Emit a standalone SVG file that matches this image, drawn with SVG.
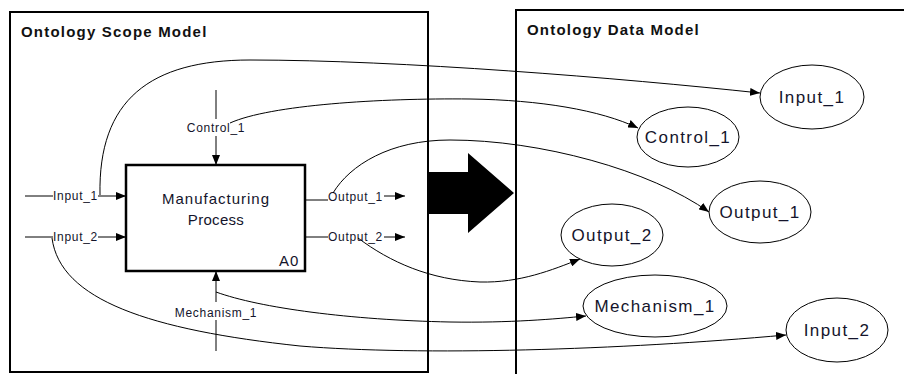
<svg xmlns="http://www.w3.org/2000/svg" width="904" height="374" viewBox="0 0 904 374">
<style>
.frame{fill:none;stroke:#000;stroke-width:2}
.box{fill:#fff;stroke:#000;stroke-width:2.5}
.ln{fill:none;stroke:#000;stroke-width:1}
.arr{fill:none;stroke:#000;stroke-width:1;marker-end:url(#ah)}
.ell{fill:#fff;stroke:#000;stroke-width:1}
.title{font-family:"Liberation Sans",Arial,sans-serif;font-weight:bold;font-size:15px;letter-spacing:1.2px;fill:#111}
.sm{font-family:"Liberation Sans",Arial,sans-serif;font-size:12px;letter-spacing:0.7px;fill:#14142b}
.mid{font-family:"Liberation Sans",Arial,sans-serif;font-size:15px;letter-spacing:1px;fill:#14142b}
.lbl{font-family:"Liberation Sans",Arial,sans-serif;font-size:17px;letter-spacing:1.4px;fill:#14142b;text-anchor:middle}
</style>
<defs>
<marker id="ah" viewBox="0 0 10 8" refX="10" refY="4" markerWidth="10" markerHeight="8" markerUnits="userSpaceOnUse" orient="auto">
<path d="M0,0 L10,4 L0,8 z" fill="#000"/>
</marker>
</defs>
<rect width="904" height="374" fill="#fff"/>
<g id="scope-frame">
<rect class="frame" x="10" y="12" width="418" height="360"/>
<text class="title" x="21" y="37">Ontology Scope Model</text>
</g>
<g id="data-frame">
<rect class="frame" x="516" y="10" width="420" height="400"/>
<text class="title" x="527" y="35">Ontology Data Model</text>
</g>
<g id="big-arrow">
<polygon points="429,172 468,172 468,153 514,193 468,233 468,214 429,214" fill="#000"/>
</g>
<g id="process">
<rect class="box" x="126" y="165" width="179" height="106"/>
<text class="mid" x="216" y="204" text-anchor="middle">Manufacturing</text>
<text class="mid" x="216" y="225" text-anchor="middle" style="letter-spacing:0.3px">Process</text>
<text class="mid" x="279" y="266">A0</text>
</g>
<g id="icom-arrows">
<line class="ln" x1="216" y1="90" x2="216" y2="119"/>
<line class="arr" x1="216" y1="136" x2="216" y2="165"/>
<text class="sm" x="216" y="132" text-anchor="middle">Control_1</text>
<line class="ln" x1="216" y1="351" x2="216" y2="320"/>
<line class="arr" x1="216" y1="302" x2="216" y2="271"/>
<text class="sm" x="216" y="317" text-anchor="middle">Mechanism_1</text>
<line class="ln" x1="25" y1="196" x2="53" y2="196"/>
<text class="sm" x="53" y="200">Input_1</text>
<line class="arr" x1="98" y1="196" x2="126" y2="196"/>
<line class="ln" x1="25" y1="237" x2="53" y2="237"/>
<text class="sm" x="53" y="241">Input_2</text>
<line class="arr" x1="98" y1="237" x2="126" y2="237"/>
<line class="ln" x1="305" y1="200" x2="328" y2="200"/>
<text class="sm" x="328" y="201">Output_1</text>
<line class="arr" x1="384" y1="196" x2="405" y2="196"/>
<line class="ln" x1="305" y1="237" x2="328" y2="237"/>
<text class="sm" x="328" y="241">Output_2</text>
<line class="arr" x1="384" y1="237" x2="405" y2="237"/>
</g>
<g id="connectors">
<path class="arr" d="M100,195 C98,100 150,60 250,60 C400,60 620,78 760,93"/>
<path class="arr" d="M230,123 C270,105 380,98 470,99 C540,100 600,110 638,128"/>
<path class="arr" d="M333,193 C350,165 390,140 450,140 C540,140 650,170 709,212"/>
<path class="arr" d="M358,238 C390,262 430,280 480,282 C520,283 552,270 580,259"/>
<path class="arr" d="M216,292 C260,308 350,320 450,322 C510,323 555,319 586,316"/>
<path class="arr" d="M52,238 C60,300 150,330 300,346 C420,356 620,350 786,335"/>
</g>
<g id="node-input1">
<ellipse class="ell" cx="812" cy="97" rx="52" ry="32"/>
<text class="lbl" x="812" y="103">Input_1</text>
</g>
<g id="node-control1">
<ellipse class="ell" cx="688" cy="137" rx="51" ry="30"/>
<text class="lbl" x="688" y="143">Control_1</text>
</g>
<g id="node-output1">
<ellipse class="ell" cx="760" cy="212" rx="51" ry="31"/>
<text class="lbl" x="760" y="218">Output_1</text>
</g>
<g id="node-output2">
<ellipse class="ell" cx="612" cy="235" rx="51" ry="31"/>
<text class="lbl" x="612" y="241">Output_2</text>
</g>
<g id="node-mechanism1">
<ellipse class="ell" cx="655" cy="306" rx="72" ry="31"/>
<text class="lbl" x="655" y="312">Mechanism_1</text>
</g>
<g id="node-input2">
<ellipse class="ell" cx="837" cy="330" rx="51" ry="32"/>
<text class="lbl" x="837" y="336">Input_2</text>
</g>
</svg>
